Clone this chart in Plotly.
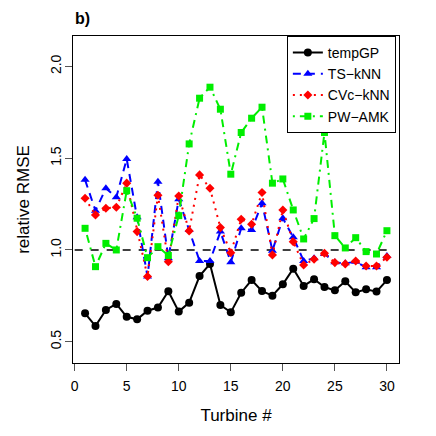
import plotly.graph_objects as go

# relative RMSE per turbine
turbines = list(range(1, 31))

temp_gp = [0.655, 0.585, 0.673, 0.706, 0.636, 0.622, 0.669, 0.686, 0.775, 0.664,
           0.713, 0.858, 0.924, 0.700, 0.660, 0.767, 0.836, 0.776, 0.751, 0.813,
           0.898, 0.804, 0.840, 0.798, 0.780, 0.829, 0.769, 0.786, 0.773, 0.836]

ts_knn = [1.382, 1.214, 1.336, 1.287, 1.496, 1.178, 0.855, 1.372, 0.955, 1.276,
          1.109, 0.940, 0.940, 1.100, 0.933, 1.118, 1.109, 1.255, 0.996, 1.173,
          1.069, 0.940, 0.955, 0.978, 0.933, 0.927, 0.936, 0.906, 0.906, 0.967]

cvc_knn = [1.282, 1.191, 1.227, 1.233, 1.364, 1.100, 0.855, 1.298, 0.936, 1.294,
           1.104, 1.409, 1.336, 1.122, 0.985, 1.167, 1.140, 1.313, 0.973, 1.218,
           1.045, 0.918, 0.949, 0.982, 0.931, 0.924, 0.940, 0.913, 0.913, 0.960]

pw_amk = [1.118, 0.909, 1.036, 1.000, 1.323, 1.173, 0.958, 1.018, 0.970, 1.187,
          1.578, 1.827, 1.887, 1.767, 1.413, 1.640, 1.718, 1.778, 1.364, 1.387,
          1.218, 1.060, 1.171, 1.640, 1.078, 1.011, 1.067, 0.991, 0.978, 1.105]

x_ticks = [0, 5, 10, 15, 20, 25, 30]
y_ticks = [0.5, 1.0, 1.5, 2.0]

FONT = "Liberation Sans, Arial, sans-serif"

fig = go.Figure()

# reference line at 1
fig.add_shape(type="line", x0=0, x1=30, y0=1, y1=1, xref="x", yref="y",
              line=dict(color="black", width=1.6, dash="8px,8px"), layer="below")

fig.add_trace(go.Scatter(x=turbines, y=temp_gp, name="tempGP", mode="lines+markers",
                         line=dict(color="black", width=2),
                         marker=dict(symbol="circle", size=8, color="black")))
fig.add_trace(go.Scatter(x=turbines, y=ts_knn, name="TS\u2212kNN", mode="lines+markers",
                         line=dict(color="#0000ff", width=2, dash="8px,6px"),
                         marker=dict(symbol="triangle-up", size=8, color="#0000ff")))
fig.add_trace(go.Scatter(x=turbines, y=cvc_knn, name="CVc\u2212kNN", mode="lines+markers",
                         line=dict(color="#ff0000", width=2, dash="2px,5px"),
                         marker=dict(symbol="diamond", size=7, color="#ff0000")))
fig.add_trace(go.Scatter(x=turbines, y=pw_amk, name="PW\u2212AMK", mode="lines+markers",
                         line=dict(color="#00ee00", width=2, dash="2px,5px,8px,5px"),
                         marker=dict(symbol="square", size=7, color="#00ee00")))

# the page body adds an 8px offset, so the figure is drawn 8px smaller
fig.update_layout(
    width=428, height=428,
    margin=dict(l=65, r=37, t=28, b=73, autoexpand=False),
    paper_bgcolor="white", plot_bgcolor="white",
    font=dict(family=FONT, size=14, color="black"),
    showlegend=True,
    legend=dict(x=0.656, y=1, xanchor="left", yanchor="top",
                bordercolor="black", borderwidth=1, bgcolor="white",
                font=dict(size=14), tracegroupgap=0, itemwidth=30),
    annotations=[dict(text="<b>b)</b>", x=0, y=1, xref="paper", yref="paper",
                      xanchor="left", yanchor="bottom", yshift=7, showarrow=False,
                      font=dict(size=16, family=FONT))],
)

fig.update_xaxes(range=[-0.16, 31.16], tickvals=x_ticks, ticks="outside", ticklen=7,
                 tickcolor="#555555", showline=True, linecolor="black", linewidth=1,
                 mirror=True, showgrid=False, zeroline=False, automargin=False,
                 ticklabelstandoff=3,
                 title=dict(text="Turbine #", standoff=16))
fig.update_yaxes(range=[0.384, 2.166], tickvals=y_ticks, ticktext=["0.5", "1.0", "1.5", "2.0"],
                 ticks="outside", ticklen=7, tickangle=-90,
                 tickcolor="#555555", showline=True, linecolor="black", linewidth=1,
                 mirror=True, showgrid=False, zeroline=False, automargin=False,
                 ticklabelstandoff=-2,
                 title=dict(text="relative RMSE", standoff=14))

fig.write_html("out.html")
